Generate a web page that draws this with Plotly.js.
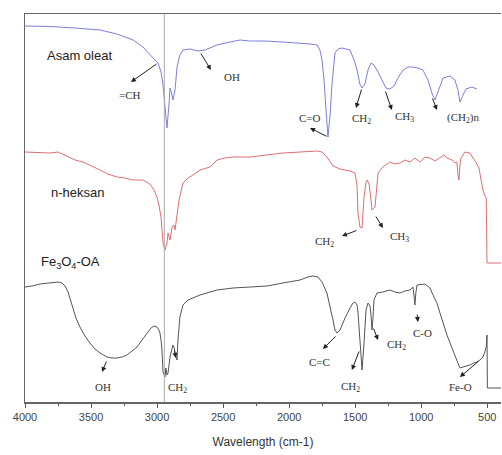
<!DOCTYPE html>
<html>
<head>
<meta charset="utf-8">
<script src="https://cdn.plot.ly/plotly-3.0.1.min.js"></script>
<style>html,body{margin:0;padding:0;background:#fff;}#chart{width:502px;height:455px;}</style>
</head>
<body>
<div id="chart"></div>
<script>
// ---- Data (wavenumber cm-1, offset transmittance in arbitrary units) ----
const oleatWn = [4000,3811,3621,3432,3304,3182,3107,3054,3016,2993,2970,2955,2940,2925,2910,2902,2887,2880,2864,2849,2827,2804,2751,2690,2637,2546,2448,2372,2297,2183,2047,1918,1842,1789,1767,1751,1736,1721,1706,1690,1675,1653,1630,1600,1562,1539,1508,1486,1463,1448,1426,1403,1380,1358,1327,1297,1267,1237,1206,1176,1138,1100,1063,1025,987,949,919,896,873,835,782,745,722,707,684,661,616,578];
const oleatT  = [376,375.5,374,372,368,362,355,347,342,339,330,317,292,274,297,314,307,302,312,335,347,352,353,351,352,357,360,362,361,361,360,359,358,357,352,342,322,292,265,287,319,349,353,354,353,352,342,332,317,314,318,332,339,337,330,322,314,313,316,324,332,335,335,334,332,322,309,302,310,324,326,322,312,300,307,313,315,313];

const hexWn = [4000,3886,3811,3750,3697,3621,3561,3493,3432,3372,3304,3243,3182,3107,3054,3023,3001,2986,2970,2955,2940,2925,2917,2902,2887,2872,2864,2849,2834,2804,2766,2728,2675,2599,2546,2486,2425,2297,2176,2047,1918,1789,1751,1714,1668,1615,1539,1502,1486,1479,1464,1448,1433,1418,1410,1395,1380,1373,1350,1335,1327,1290,1237,1199,1161,1123,1085,1048,1010,972,934,896,858,828,805,767,745,730,722,714,707,699,669,631,608,586,563,548,533,518,508,502,396];
const hexT  = [250,249,249,250,247,242,240,236,232,228,225,224,222,222,218,212,205,197,185,159,152,159,169,162,175,177,172,187,202,219,224,227,232,235,242,244,245,245,247,249,250,251,250,245,236,233,231,229,217,189,175,174,205,220,222,218,202,192,195,217,229,235,240,238,239,242,240,244,240,245,244,241,244,247,244,242,239,240,227,222,237,244,250,249,244,240,234,224,212,206,204,139,139];

const feWn = [4000,3947,3886,3811,3750,3720,3697,3674,3644,3614,3584,3546,3508,3470,3432,3379,3341,3304,3266,3228,3190,3152,3114,3076,3046,3023,3001,2986,2978,2970,2963,2955,2940,2933,2925,2917,2902,2880,2872,2857,2849,2842,2827,2804,2766,2675,2546,2425,2297,2168,2047,1918,1858,1820,1782,1751,1714,1691,1668,1653,1638,1615,1577,1539,1517,1502,1486,1479,1463,1448,1433,1418,1403,1388,1380,1373,1365,1358,1335,1290,1237,1199,1161,1123,1085,1063,1055,1048,1040,1032,972,934,904,881,858,835,805,782,752,730,707,684,654,631,601,578,555,533,518,508,502,499,396];
const feT  = [115,116,118,119,120,119,116,110,97,84,75,66,59,53,49,45,44,44,45,47,51,55,62,69,74,76,75,72,69,62,52,30,25,34,27,29,45,57,55,45,42,62,85,97,102,107,112,114,115,116,119,122,125,126,125,120,109,97,82,72,69,72,84,94,99,100,97,90,59,32,59,92,99,96,87,72,84,102,109,110,112,110,109,111,112,115,107,97,110,117,118,114,105,99,89,79,67,59,49,42,34,35,36,37,39,40,42,45,50,55,67,14,14];

const seriesNames = ["Asam oleat", "n-heksan", "Fe3O4-OA"];
const guideWn = 2945;
const xTickVals = [4000,3500,3000,2500,2000,1500,1000,500];

// Band assignment labels
const bandText  = ["=CH","OH","C=O","CH<sub>2</sub>","CH<sub>3</sub>","(CH<sub>2</sub>)n",
                   "CH<sub>2</sub>","CH<sub>3</sub>",
                   "OH","CH<sub>2</sub>","C=C","CH<sub>2</sub>","CH<sub>2</sub>","C-O","Fe-O"];
const labelWn   = [3205,2433,1842,1449,1123,684, 1729,1161, 3409,2842,1767,1532,1184,994,699];
const labelLvl  = [307,325,284,283,285,284, 160,165, 15,14,40,15,57,69,15];
// Arrows: from the band on the curve (tail) to the head near the label
const tailWn  = [2993,2675,1706,1449,1275,919, 1479,1350, 3379,2872,1638,1466,1365,1032,555];
const tailLvl = [339,350,265,314,312,305, 172,187, 42,53,67,52,75,89,42];
const headWn  = [3198,2592,1842,1494,1222,881, 1600,1290, 3417,2857,1744,1525,1327,1025,707];
const headLvl = [320,332,274,294,292,292, 166,174, 30,44,53,32,62,80,25];

// Series name labels
const seriesLabelText = ["Asam oleat", "n-heksan", "Fe<sub>3</sub>O<sub>4</sub>-OA"];
const seriesLabelWn   = [3584, 3606, 3659];
const seriesLabelLvl  = [347, 210, 140];

const traces = [
  {x: oleatWn, y: oleatT, name: seriesNames[0], mode: "lines", line: {color: "#7d80dc", width: 1}},
  {x: hexWn, y: hexT, name: seriesNames[1], mode: "lines", line: {color: "#e06e72", width: 1}},
  {x: feWn, y: feT, name: seriesNames[2], mode: "lines", line: {color: "#555555", width: 1}}
];

const annotations = [];
bandText.forEach((t, i) => annotations.push({
  x: labelWn[i], y: labelLvl[i], xref: "x", yref: "y", text: t, showarrow: false,
  font: {family: "Liberation Serif, Times New Roman, serif", size: 11, color: "#333"}
}));
tailWn.forEach((w, i) => annotations.push({
  x: headWn[i], y: headLvl[i], ax: w, ay: tailLvl[i],
  xref: "x", yref: "y", axref: "x", ayref: "y",
  text: "", showarrow: true, arrowhead: 2, arrowsize: 1, arrowwidth: 1, arrowcolor: "#222",
  standoff: 0, startstandoff: 0
}));
seriesLabelText.forEach((t, i) => annotations.push({
  x: seriesLabelWn[i], y: seriesLabelLvl[i], xref: "x", yref: "y", text: t, showarrow: false,
  font: {family: "Liberation Sans, Arial, sans-serif", size: 13, color: "#222"}
}));

const layout = {
  width: 502, height: 455,
  margin: {l: 25, r: 1, t: 14, b: 53},
  paper_bgcolor: "#fff", plot_bgcolor: "#fff",
  showlegend: false,
  xaxis: {
    range: [4000, 396], showgrid: false, zeroline: false,
    showline: true, linecolor: "#666", linewidth: 1.5, mirror: true,
    ticks: "outside", ticklen: 4, tickwidth: 1, tickcolor: "#555",
    tickvals: xTickVals, ticktext: xTickVals.map(String),
    minor: {ticks: "outside", ticklen: 2, tickcolor: "#555", dtick: 250, tick0: 0},
    tickfont: {family: "Liberation Sans, Arial, sans-serif", size: 11, color: "#444"},
    title: {text: "Wavelength (cm-1)", standoff: 16,
            font: {family: "Liberation Sans, Arial, sans-serif", size: 12, color: "#333"}}
  },
  yaxis: {
    range: [0, 388], showgrid: false, zeroline: false, showticklabels: false, ticks: "",
    showline: true, linecolor: "#666", linewidth: 1.5
  },
  shapes: [{type: "line", xref: "x", yref: "paper", x0: guideWn, x1: guideWn, y0: 0, y1: 1,
            line: {color: "#aaa", width: 1}}],
  annotations: annotations
};

Plotly.newPlot("chart", traces, layout, {displayModeBar: false, staticPlot: true});
</script>
</body>
</html>
